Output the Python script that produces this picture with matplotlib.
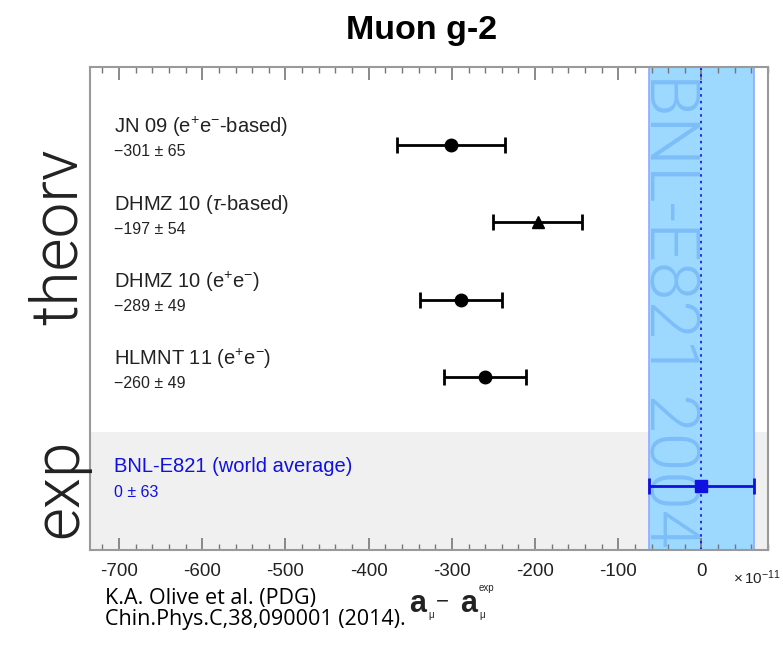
import numpy as np
import matplotlib
matplotlib.use("Agg")
import matplotlib.pyplot as plt
from matplotlib.ticker import MultipleLocator

plt.rcParams['font.family'] = ['Liberation Sans', 'DejaVu Sans']
plt.rcParams['axes.unicode_minus'] = False
plt.rcParams['mathtext.fontset'] = 'custom'
plt.rcParams['mathtext.rm'] = 'Liberation Sans'
plt.rcParams['mathtext.it'] = 'Liberation Sans:italic'
plt.rcParams['mathtext.bf'] = 'Liberation Sans:bold'
plt.rcParams['mathtext.sf'] = 'Liberation Sans'

# theory predictions, a_mu(SM) - a_mu(exp) in units of 1e-11
theory_names = ["JN 09 (e$^{+}$e$^{-}$-based)", "DHMZ 10 ($\\tau$-based)",
                "DHMZ 10 (e$^{+}$e$^{-}$)", "HLMNT 11 (e$^{+}$e$^{-}$)"]
theory_vals = [-301, -197, -289, -260]
theory_errs = [65, 54, 49, 49]
theory_markers = ['o', '^', 'o', 'o']
theory_rows = [4, 3, 2, 1]

exp_name = "BNL-E821 (world average)"
exp_val = 0
exp_err = 63
exp_row = -0.41

band_label = "BNL-E821 2004"
xticks = [-700, -600, -500, -400, -300, -200, -100, 0]

band_col = '#9cd8ff'
band_txt = '#7dbdf8'
exp_col = '#1010e0'
light = dict(family='Roboto', fontweight=300)

fig = plt.figure(figsize=(7.83, 6.46), dpi=100)
ax = fig.add_axes([90/783, 1-550/646, 678/783, 483/646])
ax.set_xlim(-735, 80)
ax.set_ylim(-1.238, 5.009)

# grey strip for the experimental row, blue band for the BNL average
ax.axhspan(-1.238, 0.288, color='#f0f0f0', zorder=0, lw=0)
ax.axvspan(exp_val - exp_err, exp_val + exp_err, color=band_col, zorder=1, lw=0)
for xe in (exp_val - exp_err, exp_val + exp_err):
    ax.axvline(xe, color='#8fa8ff', lw=1.2, zorder=1.5)
ax.axvline(exp_val, color=exp_col, ls=(0, (1.5, 2.5)), lw=1.2, zorder=1.6)
ax.text(exp_val - exp_err + 1, 4.93, band_label, rotation=-90, rotation_mode='anchor',
        ha='left', va='baseline', fontsize=50, color=band_txt, zorder=1.7, **light)

label_x = -706
for name, v, e, m, r in zip(theory_names, theory_vals, theory_errs, theory_markers, theory_rows):
    ax.errorbar(v, r, xerr=e, fmt=m, color='black', ms=9, lw=2,
                capsize=6, capthick=2, zorder=3)
    ax.text(label_x, r + 0.23, name, fontsize=14.5, color='#222222', va='center', ha='left')
    ax.text(label_x, r - 0.09, "\u2212%d \u00b1 %d" % (-v, e), fontsize=11.5,
            color='#222222', va='center', ha='left')

ax.errorbar(exp_val, exp_row, xerr=exp_err, fmt='s', color=exp_col, ms=9, lw=2,
            capsize=6, capthick=2, zorder=3)
ax.text(label_x, exp_row + 0.25, exp_name, fontsize=14.5, color=exp_col, va='center', ha='left')
ax.text(label_x, exp_row - 0.09, "%d \u00b1 %d" % (exp_val, exp_err), fontsize=11.5,
        color=exp_col, va='center', ha='left')

ax.set_xticks(xticks)
ax.set_xticklabels([str(t) for t in xticks], fontsize=13.5, color='#222222')
ax.xaxis.set_minor_locator(MultipleLocator(20))
ax.set_yticks([])
ax.tick_params(axis='x', which='both', direction='in', top=True, bottom=True,
               color='#777777', pad=9)
ax.tick_params(axis='x', which='major', length=9, width=1.2)
ax.tick_params(axis='x', which='minor', length=4, width=1)
for sp in ax.spines.values():
    sp.set_color('#9a9a9a')
    sp.set_linewidth(1.5)

fig.text(0.538, 1-30/646, "Muon g-2", fontsize=24.5, fontweight='bold',
         ha='center', va='center')
fig.text(90/783, 1-237/646, "theorv", rotation=90, fontsize=46,
         ha='right', va='center', color='#222222', **light)
fig.text(90/783, 1-488/646, "exp", rotation=90, fontsize=46,
         ha='right', va='center', color='#222222', **light)

# axis title  a_mu - a_mu^exp, built from pieces so the indices stay tiny
def px(x, y):
    return x / 783, 1 - y / 646

fig.text(*px(409, 612), "a", fontsize=22, fontweight='bold', color='#222222', ha='left', va='baseline')
fig.text(*px(428, 618), "\u03bc", fontsize=7, color='#222222', ha='left', va='baseline')
fig.text(*px(442, 607), "\u2212", fontsize=16, color='#222222', ha='center', va='baseline')
fig.text(*px(460, 612), "a", fontsize=22, fontweight='bold', color='#222222', ha='left', va='baseline')
fig.text(*px(479, 618), "\u03bc", fontsize=7, color='#222222', ha='left', va='baseline')
fig.text(*px(479, 591), "exp", fontsize=7, color='#222222', ha='left', va='baseline')

fig.text(733/783, 1-578/646, r"$\times\,10^{-11}$", fontsize=11, ha='left', va='center',
         color='#222222')
fig.text(105/783, 1-609/646, "K.A. Olive et al. (PDG)\nChin.Phys.C,38,090001 (2014).",
         fontsize=15.5, family='Open Sans', ha='left', va='center', linespacing=1.0)

fig.savefig("out.png", dpi=100)
